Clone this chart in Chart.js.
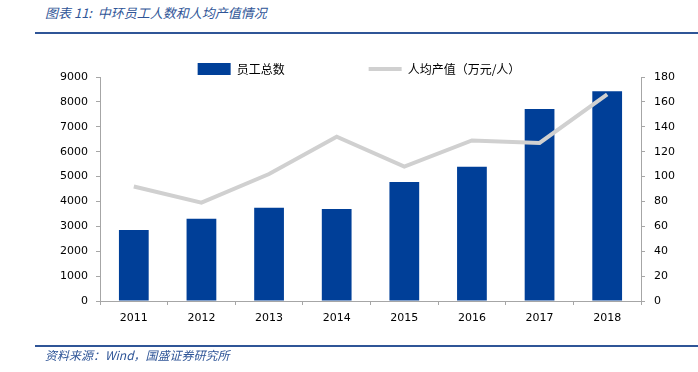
<!DOCTYPE html>
<html>
<head>
<meta charset="utf-8">
<script src="https://cdn.jsdelivr.net/npm/chart.js@4"></script>
<style>
    body { margin: 0; width: 698px; height: 372px; background: #fff; position: relative; overflow: hidden; }
    #chart { position: absolute; left: 0; top: 0; }
    .title { position: absolute; left: 45px; top: 3px; font: italic 13px "Noto Sans CJK SC"; color: #2f5597; }
    .rule { position: absolute; left: 35px; right: 0; height: 2px; background: #2f5597; }
    .source { position: absolute; left: 45px; top: 346px; font: italic 12px "Noto Sans CJK SC"; color: #2f5597; }
</style>
</head>
<body>
<div class="title">图表 11:&nbsp; 中环员工人数和人均产值情况</div>
<div class="rule" style="top:32px"></div>
<canvas id="chart" width="698" height="372"></canvas>
<div class="rule" style="top:345px"></div>
<div class="source">资料来源：Wind，国盛证券研究所</div>
<script>
// data
const years = ['2011', '2012', '2013', '2014', '2015', '2016', '2017', '2018'];
const staff = [2850, 3300, 3750, 3700, 4780, 5390, 7710, 8430];
const outputPerHead = [92, 79, 102, 132, 108, 129, 127, 166];

const tickFont = { family: 'DejaVu Sans', size: 11 };
const axisGrey = '#a6a6a6';

new Chart(document.getElementById('chart'), {
    type: 'bar',
    data: {
        labels: years,
        datasets: [{
            label: '员工总数',
            data: staff,
            backgroundColor: '#003f98',
            barPercentage: 0.44,
            categoryPercentage: 1,
            pointStyle: 'rect',
            yAxisID: 'y',
            order: 1
        }, {
            type: 'line',
            label: '人均产值（万元/人）',
            data: outputPerHead,
            borderColor: '#d0d0d0',
            backgroundColor: '#d0d0d0',
            borderWidth: 4,
            pointRadius: 0,
            tension: 0,
            pointStyle: 'line',
            yAxisID: 'y1',
            order: 0
        }]
    },
    options: {
        responsive: false,
        animation: false,
        layout: { padding: { top: -21, left: 20, right: 0, bottom: 0 } },
        plugins: {
            legend: {
                maxHeight: 98,
                labels: {
                    usePointStyle: true,
                    pointStyleWidth: 33,
                    padding: 84,
                    color: '#000',
                    font: { family: 'Noto Sans CJK SC', size: 12 },
                    // keep bar first, like the reference
                    sort: (a, b) => a.datasetIndex - b.datasetIndex
                }
            },
            tooltip: { enabled: false }
        },
        scales: {
            x: {
                offset: true,
                grid: { offset: true, drawOnChartArea: false, color: axisGrey, tickLength: 4 },
                border: { color: axisGrey },
                ticks: { color: '#000', font: tickFont, padding: 7 },
                afterFit: (scale) => { scale.height = 71; }
            },
            y: {
                position: 'left',
                min: 0,
                max: 9000,
                grid: { drawOnChartArea: false, color: axisGrey, tickLength: 4 },
                border: { color: axisGrey },
                ticks: { stepSize: 1000, color: '#000', font: tickFont, padding: 8, callback: (v) => String(v) },
                afterFit: (scale) => { scale.width = 80; }
            },
            y1: {
                position: 'right',
                min: 0,
                max: 180,
                grid: { drawOnChartArea: false, color: axisGrey, tickLength: 4 },
                border: { color: axisGrey },
                ticks: { stepSize: 20, color: '#000', font: tickFont, padding: 9 },
                afterFit: (scale) => { scale.width = 57; }
            }
        }
    }
});
</script>
</body>
</html>
